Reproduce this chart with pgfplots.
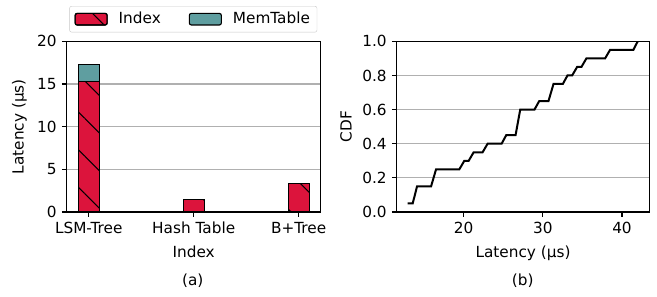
\documentclass[border=0pt]{standalone}
\usepackage{pgfplots}
\pgfplotsset{compat=1.18}
\usepackage{fontspec}
\setmainfont{DejaVu Sans}
\usetikzlibrary{patterns.meta}
\definecolor{crim}{RGB}{220,20,60}
\definecolor{cadet}{RGB}{95,158,160}
\definecolor{gridc}{RGB}{176,176,176}
\begin{document}
\fontsize{15.3bp}{18bp}\selectfont
\begin{tikzpicture}
\useasboundingbox (0,0) rectangle (657bp,297bp);
\pgfplotsset{
  every axis/.append style={
    scale only axis,
    height=170.7bp,
    /pgf/number format/assume math mode=true,
    font=\fontsize{15.3bp}{18bp}\selectfont,
    axis line style={line width=1.1bp},
    every tick/.style={black,line width=1.1bp},
    major tick length=4.8bp,
    tick align=outside,
    ymajorgrids,
    major grid style={gridc,line width=1.1bp},
    anchor=south west,
    xlabel style={at={(rel axis cs:0.5,0)}, anchor=north, yshift=-29bp},
  },
}
\begin{axis}[
  at={(66.7bp,85bp)},
  width=254bp,
  ybar stacked,
  bar width=0.2,
  xmin=-0.21, xmax=2.21,
  ymin=0, ymax=20,
  ytick={0,5,10,15,20},
  xtick={0,1,2},
  xticklabels={LSM-Tree,Hash Table,B+Tree},
  xtick pos=bottom, ytick pos=left,
  xlabel={Index},
  ylabel={Latency (µs)},
  legend columns=2,
  legend style={at={(0.4984,1.1295)}, anchor=center, draw=gridc!70, rounded corners=2bp,
    /tikz/every odd column/.append style={column sep=9bp},
    /tikz/every even column/.append style={column sep=26bp},
    font=\fontsize{15.3bp}{18bp}\selectfont, inner xsep=5bp, inner ysep=4bp},
  legend image code/.code={\draw[#1] (0bp,-5.8bp) rectangle (32bp,5.8bp);},
]
\addplot[fill=crim, draw=black, line width=1.1bp,
  postaction={pattern={Lines[angle=-45,distance=26.6bp,line width=1.1bp]}, pattern color=black}]
  coordinates {(0,15.3) (1,1.49) (2,3.32)};
\addplot[fill=cadet, draw=black, line width=1.1bp]
  coordinates {(0,1.97)};
\legend{Index,MemTable}
\end{axis}
\node at (192.7bp,16bp) {(a)};

\begin{axis}[
  at={(396.7bp,85bp)},
  width=252.6bp,
  xmin=11.55, xmax=43.45,
  ymin=0, ymax=1,
  xtick={20,30,40},
  ytick={0,0.2,0.4,0.6,0.8,1.0},
  yticklabel style={/pgf/number format/.cd,fixed,fixed zerofill,precision=1},
  xtick pos=bottom, ytick pos=left,
  xlabel={Latency (µs)},
  ylabel={CDF},
]
\addplot[black, line width=2bp, line join=miter] coordinates {
(12.94,0.05) (13.57,0.05)
(14.12,0.15) (15.89,0.15)
(16.52,0.25) (19.46,0.25)
(20.09,0.30) (20.64,0.30)
(21.27,0.35) (22.40,0.35)
(23.03,0.40) (24.80,0.40)
(25.38,0.45) (26.56,0.45)
(27.15,0.60) (28.95,0.60)
(29.55,0.65) (30.72,0.65)
(31.35,0.75) (32.53,0.75)
(33.12,0.80) (33.71,0.80)
(34.34,0.85) (34.88,0.85)
(35.51,0.90) (37.87,0.90)
(38.50,0.95) (41.44,0.95)
(41.99,1.00)
};
\end{axis}
\node at (522.7bp,16bp) {(b)};
\end{tikzpicture}
\end{document}
